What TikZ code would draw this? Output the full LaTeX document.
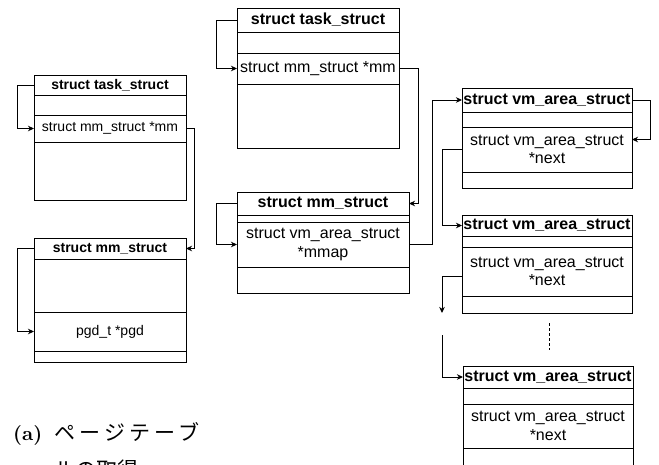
\documentclass[tikz,border=0pt]{standalone}
\usepackage{fontspec}
\newfontfamily\diagfont{Liberation Sans}
\newfontfamily\capbold{lmroman10-bold.otf}
\newfontfamily\cjkfont{Noto Sans CJK JP}
\newfontfamily\cjkwide[LetterSpace=20]{Noto Sans CJK JP}
\usetikzlibrary{arrows.meta}

\tikzset{
  fld/.style={draw, line width=1pt, anchor=north west, inner sep=0pt,
    outer sep=0pt, align=center},
  sizea/.style={font=\diagfont\fontsize{14}{16}\selectfont},
  sizeb/.style={font=\diagfont\fontsize{16}{18.5}\selectfont},
  hdra/.style={font=\diagfont\bfseries\fontsize{14}{16}\selectfont},
  hdrb/.style={font=\diagfont\bfseries\fontsize{16}{18.5}\selectfont},
  wa/.style={minimum width=152pt},
  wt/.style={minimum width=162pt},
  wm/.style={minimum width=172pt},
  wv/.style={minimum width=170pt},
  hh/.style={minimum height=#1pt},
  link/.style={line width=1pt, -{Stealth[length=6pt,width=5.5pt,inset=1.8pt]}},
  captext/.style={anchor=base west, inner sep=0pt},
}

\begin{document}
\begin{tikzpicture}[x=1pt,y=-1pt]
\useasboundingbox (0,0) rectangle (659,464);
\fill[white] (0,0) rectangle (659,464);
\clip (0,0) rectangle (659,464);

% ---------- (a) task_struct -> mm_struct -> pgd ----------
\node[fld,hdra,wa,hh=20] (ta)   at (34,75)  {struct task\_struct};
\node[fld,wa,hh=20]      (ta2)  at (34,95)  {};
\node[fld,sizea,wa,hh=27](tamm) at (34,115) {struct mm\_struct *mm};
\node[fld,wa,hh=58]      (tab)  at (34,142) {};

\node[fld,hdra,wa,hh=21] (ma)   at (34,238) {struct mm\_struct};
\node[fld,wa,hh=53]      (ma2)  at (34,259) {};
\node[fld,sizea,wa,hh=39](mpgd) at (34,312) {pgd\_t *pgd};
\node[fld,wa,hh=11]      (mab)  at (34,351) {};

\draw[link] (ta.west) -- ++(-17,0) |- (tamm.west);
\draw[link] (ma.west) -- ++(-17,0) |- (mpgd.west);
\draw[link] (tamm.east) -- ++(8,0) |- (ma.east);

% ---------- (b) task_struct -> mm_struct -> vm_area_struct list ----------
\node[fld,hdrb,wt,hh=24] (tb)   at (237,8)  {struct task\_struct};
\node[fld,wt,hh=21]      (tb2)  at (237,32) {};
\node[fld,sizeb,wt,hh=31](tbmm) at (237,53) {struct mm\_struct *mm};
\node[fld,wt,hh=64]      (tbb)  at (237,84) {};

\node[fld,hdrb,wm,hh=23] (mb)   at (237,192) {struct mm\_struct};
\node[fld,wm,hh=7]       (mb2)  at (237,215) {};
\node[fld,sizeb,wm,hh=45](mmap) at (237,222) {struct vm\_area\_struct\\*mmap};
\node[fld,wm,hh=26]      (mbb)  at (237,267) {};

\node[fld,hdrb,wv,hh=24] (va)   at (462,88)  {struct vm\_area\_struct};
\node[fld,wv,hh=15]      (va2)  at (462,112) {};
\node[fld,sizeb,wv,hh=45](vanx) at (462,127) {struct vm\_area\_struct\\*next};
\node[fld,wv,hh=16]      (vab)  at (462,172) {};

\node[fld,hdrb,wv,hh=21] (vb)   at (462,215) {struct vm\_area\_struct};
\node[fld,wv,hh=11]      (vb2)  at (462,236) {};
\node[fld,sizeb,wv,hh=49](vbnx) at (462,247) {struct vm\_area\_struct\\*next};
\node[fld,wv,hh=17]      (vbb)  at (462,296) {};

\node[fld,hdrb,wv,hh=22] (vc)   at (463,366) {struct vm\_area\_struct};
\node[fld,wv,hh=16]      (vc2)  at (463,388) {};
\node[fld,sizeb,wv,hh=44](vcnx) at (463,404) {struct vm\_area\_struct\\*next};
\node[fld,wv,hh=24]      (vcb)  at (463,448) {};

\coordinate (gapA)  at (442,313);
\coordinate (gapB)  at (442,335);
\coordinate (dotsT) at (549,323);
\coordinate (dotsB) at (549,350);

\draw[link] (tb.west) -- ++(-21,0) |- (tbmm.west);
\draw[link] (mb.west) -- ++(-21,0) |- (mmap.west);
\draw[link] (tbmm.east) -- ++(19,0) |- (mb.east);
\draw[link] (mmap.east) -- ++(23,0) |- (va.west);
\draw[link] (va.east) -- ++(18,0) |- ([yshift=10pt]vanx.east);
\draw[link] (vanx.west) -- ++(-20,0) |- (vb.west);
\draw[link] ([yshift=-5pt]vbnx.west) -| (gapA);
\draw[link] (gapB) |- (vc.west);
\draw[line width=0.8pt, dash pattern=on 3pt off 2pt] (dotsT) -- (dotsB);

% ---------- caption ----------
\node[captext, font=\capbold\fontsize{20}{24}\selectfont] (capl) at (13,440) {(a)};
\node[captext, font=\cjkwide\fontsize{21}{25}\selectfont] (capt) at (54,440) {ページテーブ};
\node[captext, font=\cjkfont\fontsize{21}{25}\selectfont] (capu) at (54,477) {ルの取得};
\end{tikzpicture}
\end{document}
